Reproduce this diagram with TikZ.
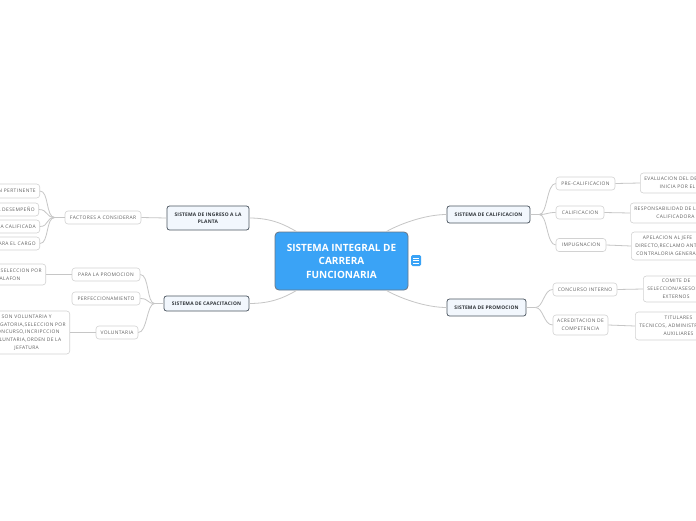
\documentclass[tikz,border=0pt]{standalone}
\usepackage{fontspec}
\setmainfont{Open Sans}
\newfontfamily\spacedfont[LetterSpace=8]{Open Sans}
\newfontfamily\mainspaced[LetterSpace=4]{Open Sans}
\usetikzlibrary{calc}
\definecolor{cfill}{HTML}{3AA3F6}
\definecolor{cborder}{HTML}{6A7684}
\definecolor{mfill}{HTML}{F2F7FD}
\definecolor{mborder}{HTML}{4C5661}
\definecolor{mtext}{HTML}{2E3338}
\definecolor{sborder}{HTML}{D2D2D2}
\definecolor{stext}{HTML}{606060}
\definecolor{lcolor}{HTML}{C6C6C6}
\definecolor{iconfill}{HTML}{3AA3F6}
\begin{document}
\begin{tikzpicture}[x=1pt,y=-1pt,
  central/.style={draw=cborder, fill=cfill, rounded corners=4pt, line width=0.8pt, text=white,
    font=\fontsize{10}{13.5}\selectfont\bfseries, align=center, minimum width=133pt, minimum height=58pt, inner sep=0pt},
  mainbox/.style={draw=mborder, fill=mfill, rounded corners=2.5pt, line width=0.75pt, text=mtext,
    font=\mainspaced\fontsize{4.9}{7}\selectfont\bfseries, align=center, inner sep=0pt},
  sub/.style={draw=sborder, fill=white, rounded corners=3pt, line width=0.6pt, text=stext,
    font=\spacedfont\fontsize{4.9}{7.8}\selectfont, align=center, inner sep=0pt},
  leaf/.style={sub, inner xsep=4pt, inner ysep=0pt},
  link/.style={draw=lcolor, line width=0.8pt}
]
\useasboundingbox (0,0) rectangle (696,520);
\clip (0,0) rectangle (696,520);
\fill[white] (0,0) rectangle (696,520);

% central
\node[central] (c) at (341.5,261) {SISTEMA INTEGRAL DE\\CARRERA\\FUNCIONARIA};
\node[fill=iconfill, rounded corners=1.5pt, minimum width=10pt, minimum height=11pt, inner sep=0pt, anchor=west] (icon) at (411,260.5) {};
\draw[white, line width=0.7pt] ($(icon.center)+(-3,-2.5)$) -- ++(6,0)
  ($(icon.center)+(-3,0)$) -- ++(6,0)
  ($(icon.center)+(-3,2.5)$) -- ++(6,0);

% main nodes
\node[mainbox, minimum width=82pt, minimum height=24pt] (ing) at (208,218) {SISTEMA DE INGRESO A LA\\PLANTA};
\node[mainbox, minimum width=85pt, minimum height=15pt] (cap) at (206.5,303.5) {SISTEMA DE CAPACITACION};
\node[mainbox, minimum width=83pt, minimum height=17pt] (cal) at (488.5,214.5) {SISTEMA DE CALIFICACION};
\node[mainbox, minimum width=79pt, minimum height=17pt] (pro) at (486.5,307.5) {SISTEMA DE PROMOCION};

% central links
\draw[link] ($(c.north west)+(22,0)$) .. controls +(-12,-7) and +(22,0) .. (ing.east);
\draw[link] ($(c.north east)+(-22,0)$) .. controls +(12,-7) and +(-22,0) .. (cal.west);
\draw[link] ($(c.south west)+(22,0)$) .. controls +(-12,7) and +(22,0) .. (cap.east);
\draw[link] ($(c.south east)+(-22,0)$) .. controls +(12,7) and +(-22,0) .. (pro.west);

% ingreso branch
\node[sub, minimum width=76pt, minimum height=13pt] (fac) at (103,217.5) {FACTORES A CONSIDERAR};
\draw[link] (ing.west) -- (fac.east);
\node[leaf, minimum height=14pt, anchor=east] (l1) at (40,191) {INFORMACION PERTINENTE};
\node[leaf, minimum height=13pt, anchor=east] (l2) at (39,209.5) {EVALUACION DEL DESEMPEÑO};
\node[leaf, minimum height=13pt, anchor=east] (l3) at (40,226.5) {EXPERIENCIA CALIFICADA};
\node[leaf, minimum height=13pt, anchor=east] (l4) at (40,243.5) {APTITUD PARA EL CARGO};
\draw[link, line width=1.2pt] (fac.west) -- ++(-10,0) coordinate (fb);
\foreach \n in {l1,l2,l3,l4}
  \draw[link] (fb) .. controls +(-9,0) and +(9,0) .. (\n.east);

% capacitacion branch
\node[sub, minimum width=68pt, minimum height=13pt] (pp) at (106,274.5) {PARA LA PROMOCION};
\node[sub, minimum width=68pt, minimum height=13pt] (pf) at (106,298.5) {PERFECCIONAMIENTO};
\node[sub, minimum width=42pt, minimum height=13pt] (vo) at (117,332.5) {VOLUNTARIA};
\draw[link, line width=1.2pt] (cap.west) -- ++(-9,0) coordinate (cb);
\foreach \n in {pp,pf,vo}
  \draw[link] (cb) .. controls +(-8,0) and +(9,0) .. (\n.east);
\node[leaf, minimum height=21pt, anchor=east] (esc) at (46,274.5) {SISTEMA DE SELECCION POR\\ESCALAFON};
\node[leaf, minimum height=43pt, anchor=east] (vol) at (70,332.5) {SON VOLUNTARIA Y\\OBLIGATORIA,SELECCION POR\\CONCURSO,INCRIPCCION\\VOLUNTARIA,ORDEN DE LA\\JEFATURA};
\draw[link] (pp.west) -- (esc.east);
\draw[link] (vo.west) -- (vol.east);

% calificacion branch
\node[sub, minimum width=59pt, minimum height=13pt] (pc) at (585.5,183.5) {PRE-CALIFICACION};
\node[sub, minimum width=48pt, minimum height=13pt] (ca) at (580,212.5) {CALIFICACION};
\node[sub, minimum width=50pt, minimum height=13pt] (im) at (581,245) {IMPUGNACION};
\draw[link, line width=1.2pt] (cal.east) -- ++(9,0) coordinate (kb);
\foreach \n in {pc,ca,im}
  \draw[link] (kb) .. controls +(8,0) and +(-9,0) .. (\n.west);
\node[leaf, minimum height=20pt, anchor=west] (ev) at (640,183) {EVALUACION DEL DESEMPEÑO\\INICIA POR EL JEFE};
\node[leaf, minimum height=20pt, anchor=west] (re) at (630,213) {RESPONSABILIDAD DE LA JUNTA\\CALIFICADORA};
\node[leaf, minimum height=28pt, anchor=west] (ap) at (631,246) {APELACION AL JEFE\\DIRECTO,RECLAMO ANTE\\CONTRALORIA GENERAL};
\draw[link] (pc.east) -- (ev.west);
\draw[link] (ca.east) -- (re.west);
\draw[link] (im.east) -- (ap.west);

% promocion branch
\node[sub, minimum width=64pt, minimum height=13pt] (ci) at (585,289.5) {CONCURSO INTERNO};
\node[sub, minimum width=55pt, minimum height=20pt] (ac) at (580.5,325) {ACREDITACION DE\\COMPETENCIA};
\draw[link, line width=1.2pt] (pro.east) -- ++(9,0) coordinate (pb);
\foreach \n in {ci,ac}
  \draw[link] (pb) .. controls +(8,0) and +(-9,0) .. (\n.west);
\node[leaf, minimum height=26pt, anchor=west] (co) at (643,289) {COMITE DE\\SELECCION/ASESORES\\EXTERNOS};
\node[leaf, minimum height=28pt, anchor=west] (ti) at (635,326) {TITULARES\\TECNICOS, ADMINISTRATIVOS,\\AUXILIARES};
\draw[link] (ci.east) -- (co.west);
\draw[link] (ac.east) -- (ti.west);
\end{tikzpicture}
\end{document}
